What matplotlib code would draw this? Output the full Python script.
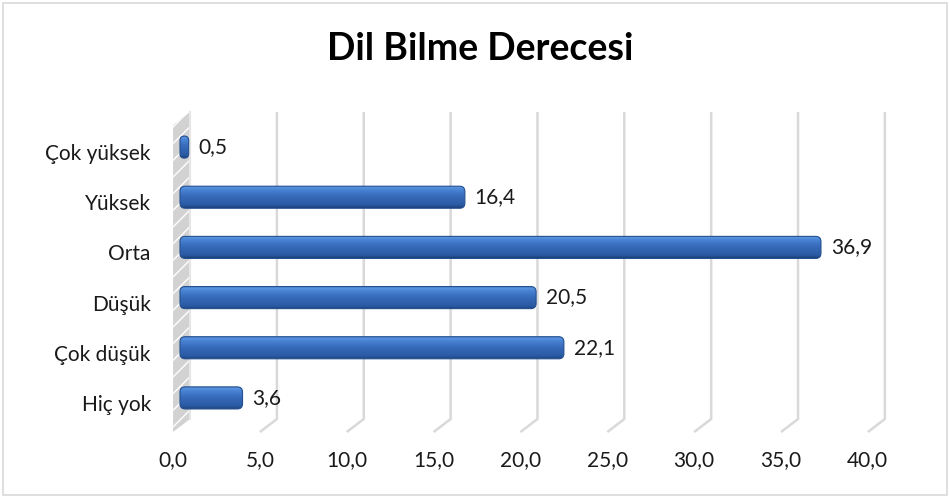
import numpy as np
import matplotlib
matplotlib.use("Agg")
import matplotlib.pyplot as plt
from matplotlib.patches import FancyBboxPatch, Polygon, Rectangle
from matplotlib.colors import LinearSegmentedColormap
from matplotlib.transforms import ScaledTranslation

# data
categories = ["Hiç yok", "Çok düşük", "Düşük", "Orta", "Yüksek", "Çok yüksek"]
values = [3.6, 22.1, 20.5, 36.9, 16.4, 0.5]
xticks = [0, 5, 10, 15, 20, 25, 30, 35, 40]
title = "Dil Bilme Derecesi"

plt.rcParams['font.family'] = ['Lato', 'DejaVu Sans']

W, H = 949, 497
fig = plt.figure(figsize=(W / 100, H / 100), dpi=100)
ax = fig.add_axes([180 / W, 1 - 426 / H, 694.8 / W, 307 / H])
ax.set_xlim(0, 40)
ax.set_ylim(-0.56, 5.56)
xlim, ylim = ax.get_xlim(), ax.get_ylim()

# fake 3d depth (data units): back wall and front floor edge
bx, by = 0.58, 0.14
fx, fy = -0.40, -0.12
grid_c = '#d9d9d9'

for v in xticks[1:]:
    ax.plot([v + bx, v + bx, v + fx], [ylim[1] + by, ylim[0] + by, ylim[0] + fy],
            color=grid_c, lw=1.8, clip_on=False, zorder=1, solid_capstyle='butt')

# left wall
wall = Polygon([(fx, ylim[0] + fy), (bx, ylim[0] + by), (bx, ylim[1] + by), (fx, ylim[1] + fy)],
               closed=True, facecolor='#d2d2d2', edgecolor='white', hatch='//', lw=0,
               clip_on=False, zorder=1.5)
ax.add_patch(wall)
ax.plot([bx, bx], [ylim[0] + by, ylim[1] + by], color='#e6e6e6', lw=1.5, clip_on=False, zorder=1.6)

# bars
ypos = np.arange(len(categories))
bars = ax.barh(ypos, values, height=0.44, color='#3a6fc0', zorder=3)

cmap = LinearSegmentedColormap.from_list('bar', [
    (0.0, '#1b3f78'), (0.12, '#2a5aa3'), (0.5, '#3669b8'),
    (0.82, '#4a85d6'), (0.92, '#5b95e0'), (1.0, '#3d70bd')])
grad = np.linspace(0, 1, 64).reshape(-1, 1)

for b in bars:
    x, yb, w, h = b.get_x(), b.get_y(), b.get_width(), b.get_height()
    b.set_visible(False)
    r = min(0.3, w / 2)
    shape = FancyBboxPatch((x, yb), w, h, boxstyle=f"round,pad=0,rounding_size={r}",
                           mutation_aspect=0.346, facecolor='none',
                           edgecolor='#24508f', lw=0.8, zorder=3.2, clip_on=False)
    ax.add_patch(shape)
    im = ax.imshow(grad, extent=[x, x + w, yb, yb + h], aspect='auto', cmap=cmap,
                   origin='lower', zorder=3, interpolation='bilinear')
    im.set_clip_path(shape)

for v, yv in zip(values, ypos):
    ax.annotate(f"{v:.1f}".replace('.', ','), xy=(v, yv), xytext=(7, 0),
                textcoords='offset points', va='center', ha='left', fontsize=15, color='#1a1a1a')

ax.set_xlim(xlim)
ax.set_ylim(ylim)

ax.set_xticks(xticks)
ax.set_xticklabels([f"{t:.1f}".replace('.', ',') for t in xticks], fontsize=15, color='#1a1a1a')
ax.set_yticks(ypos)
ax.set_yticklabels(categories, fontsize=15, color='#1a1a1a')
ax.tick_params(axis='x', length=0, pad=17)
ax.tick_params(axis='y', length=0, pad=21)
for lab in ax.get_xticklabels():
    lab.set_transform(lab.get_transform() + ScaledTranslation(-0.07, 0, fig.dpi_scale_trans))
for lab in ax.get_yticklabels():
    lab.set_transform(lab.get_transform() + ScaledTranslation(0, -0.05, fig.dpi_scale_trans))
for s in ax.spines.values():
    s.set_visible(False)
ax.patch.set_alpha(0)

fig.text(0.5063, 1 - 49 / H, title, ha='center', va='center', fontsize=27,
         fontweight='bold', color='black')

fig.patches.append(Rectangle((2.5 / W, 2.5 / H), 1 - 5 / W, 1 - 5 / H, transform=fig.transFigure,
                             fill=False, edgecolor='#d9d9d9', lw=1.2))

fig.savefig('out.png', dpi=100)
